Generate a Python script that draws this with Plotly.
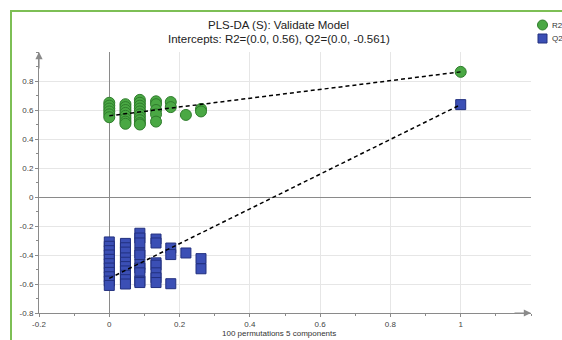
import plotly.graph_objects as go

# ---- data ----
r2_x = [0]*6 + [0.046]*8 + [0.087]*10 + [0.133]*5 + [0.175]*2 + [0.218] + [0.261]*2 + [1.0]
r2_y = [0.65, 0.63, 0.61, 0.59, 0.57, 0.55,
        0.64, 0.62, 0.60, 0.58, 0.56, 0.54, 0.52, 0.505,
        0.67, 0.65, 0.63, 0.61, 0.59, 0.57, 0.55, 0.53, 0.51, 0.50,
        0.66, 0.64, 0.60, 0.57, 0.52,
        0.655, 0.62,
        0.566,
        0.607, 0.59,
        0.863]
q2_x = [0]*11 + [0.046]*10 + [0.087]*10 + [0.133]*7 + [0.175]*3 + [0.218] + [0.261]*2 + [1.0]
q2_y = [-0.31, -0.34, -0.37, -0.40, -0.43, -0.46, -0.49, -0.52, -0.55, -0.58, -0.61,
        -0.32, -0.35, -0.38, -0.42, -0.45, -0.48, -0.51, -0.54, -0.57, -0.60,
        -0.25, -0.283, -0.317, -0.386, -0.40, -0.466, -0.49, -0.523, -0.58, -0.59,
        -0.29, -0.317, -0.454, -0.47, -0.523, -0.557, -0.59,
        -0.352, -0.397, -0.598,
        -0.386,
        -0.425, -0.495,
        0.637]
r2_intercept = 0.56
q2_intercept = -0.561
x_ticks = [-0.2, 0, 0.2, 0.4, 0.6, 0.8, 1]
x_ticklabels = ["-0.2", "0", "0.2", "0.4", "0.6", "0.8", "1"]
y_ticks = [-0.8, -0.6, -0.4, -0.2, 0, 0.2, 0.4, 0.6, 0.8]
y_ticklabels = ["-0.8", "-0.6", "-0.4", "-0.2", "0", "0.2", "0.4", "0.6", "0.8"]
title_line1 = "PLS-DA (S): Validate Model"
title_line2 = "Intercepts: R2=(0.0, 0.56), Q2=(0.0, -0.561)"
x_title = "100 permutations 5 components"

green_fill = "#4aa844"
green_line = "#2f7d2c"
blue_fill = "#3b4fb5"
blue_line = "#22307f"
axis_col = "#8a8a8a"

fig = go.Figure()
fig.add_trace(go.Scatter(x=r2_x, y=r2_y, mode="markers", name="R2", showlegend=False,
                         marker=dict(symbol="circle", size=11, color=green_fill,
                                     line=dict(color=green_line, width=1))))
fig.add_trace(go.Scatter(x=q2_x, y=q2_y, mode="markers", name="Q2", showlegend=False,
                         marker=dict(symbol="square", size=10, color=blue_fill,
                                     line=dict(color=blue_line, width=1))))
fig.add_trace(go.Scatter(x=[0, r2_x[-1]], y=[r2_intercept, r2_y[-1]], mode="lines",
                         showlegend=False, line=dict(color="black", width=1.5, dash="4px,3px")))
fig.add_trace(go.Scatter(x=[0, q2_x[-1]], y=[q2_intercept, q2_y[-1]], mode="lines",
                         showlegend=False, line=dict(color="black", width=1.5, dash="4px,3px")))

L, R, T, B = 39, 31, 52, 27
W, H = 562, 340
pw, ph = W - L - R, H - T - B

def px(xp):
    return (xp - L) / pw

def py(yp):
    return (H - B - yp) / ph

shapes = [
    # green frame
    dict(type="rect", xref="paper", yref="paper", x0=px(11), x1=px(600), y0=py(11), y1=py(380),
         line=dict(color="#7dbf55", width=2), fillcolor="rgba(0,0,0,0)", layer="below"),
    # legend symbols
    dict(type="circle", xref="paper", yref="paper", x0=px(537.5), x1=px(547.5), y0=py(30), y1=py(20),
         fillcolor=green_fill, line=dict(color=green_line, width=1)),
    dict(type="rect", xref="paper", yref="paper", x0=px(538), x1=px(547), y0=py(43), y1=py(34),
         fillcolor=blue_fill, line=dict(color=blue_line, width=1)),
]

annotations = [
    dict(text=title_line1, xref="paper", yref="paper", x=px(278), y=py(25), xanchor="center",
         yanchor="middle", showarrow=False, font=dict(size=11.5, color="#222")),
    dict(text=title_line2, xref="paper", yref="paper", x=px(279), y=py(38.5), xanchor="center",
         yanchor="middle", showarrow=False, font=dict(size=11.5, color="#222")),
    dict(text="R2", xref="paper", yref="paper", x=px(550), y=py(25), xanchor="left", yanchor="middle",
         showarrow=False, font=dict(size=8, color="#333")),
    dict(text="Q2", xref="paper", yref="paper", x=px(550), y=py(38.5), xanchor="left", yanchor="middle",
         showarrow=False, font=dict(size=8, color="#333")),
    dict(text=x_title, xref="paper", yref="paper", x=px(279), y=py(333),
         xanchor="center", yanchor="middle", showarrow=False, font=dict(size=8, color="#333")),
    # axis arrows
    dict(x=1.2, y=-0.8, xref="x", yref="y", ax=-18, ay=0, showarrow=True, arrowhead=2,
         arrowsize=1.2, arrowwidth=1.2, arrowcolor=axis_col, text=""),
    dict(x=-0.2, y=1.0, xref="x", yref="y", ax=0, ay=18, showarrow=True, arrowhead=2,
         arrowsize=1.2, arrowwidth=1.2, arrowcolor=axis_col, text=""),
]

fig.update_layout(
    width=W, height=H,
    margin=dict(l=L, r=R, t=T, b=B),
    paper_bgcolor="white", plot_bgcolor="white",
    font=dict(family="Liberation Sans, Arial, sans-serif", color="#333"),
    showlegend=False,
    shapes=shapes,
    annotations=annotations,
)
fig.update_xaxes(range=[-0.2, 1.2], tickvals=x_ticks, ticktext=x_ticklabels,
                 showgrid=True, gridcolor="#e6e6e6", gridwidth=1,
                 zeroline=True, zerolinecolor=axis_col, zerolinewidth=1,
                 showline=True, linecolor=axis_col, linewidth=1,
                 ticks="outside", ticklen=3, tickcolor=axis_col,
                 minor=dict(dtick=0.1, tick0=0, ticks="outside", ticklen=2, tickcolor=axis_col, showgrid=False),
                 tickfont=dict(size=8, color="#444"))
fig.update_yaxes(range=[-0.8, 1.0], tickvals=y_ticks, ticktext=y_ticklabels,
                 showgrid=True, gridcolor="#e6e6e6", gridwidth=1,
                 zeroline=True, zerolinecolor=axis_col, zerolinewidth=1,
                 showline=True, linecolor=axis_col, linewidth=1,
                 ticks="outside", ticklen=3, tickcolor=axis_col,
                 minor=dict(dtick=0.1, tick0=0, ticks="outside", ticklen=2, tickcolor=axis_col, showgrid=False),
                 tickfont=dict(size=8, color="#444"))

fig.write_html("out.html")
